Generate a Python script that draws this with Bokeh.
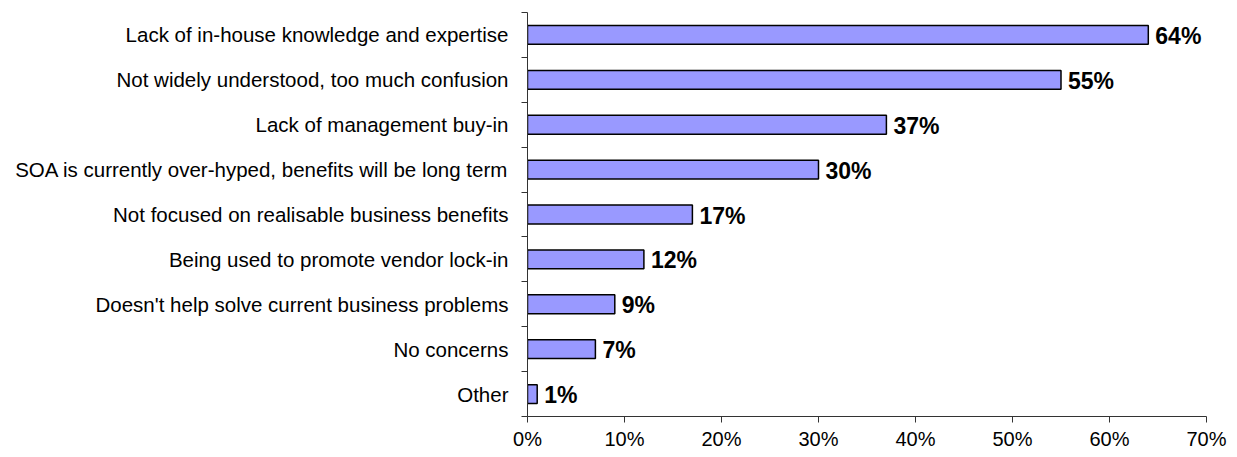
from bokeh.plotting import figure
from bokeh.models import Range1d, FixedTicker, ColumnDataSource
from bokeh.core.properties import value
from bokeh.embed import file_html
from bokeh.resources import INLINE

categories = [
    "Lack of in-house knowledge and expertise",
    "Not widely understood, too much confusion",
    "Lack of management buy-in",
    "SOA is currently over-hyped, benefits will be long term",
    "Not focused on realisable business benefits",
    "Being used to promote vendor lock-in",
    "Doesn't help solve current business problems",
    "No concerns",
    "Other",
]
values = [64, 55, 37, 30, 17, 12, 9, 7, 1]
x_ticks = [0, 10, 20, 30, 40, 50, 60, 70]
x_tick_labels = ["0%", "10%", "20%", "30%", "40%", "50%", "60%", "70%"]

n = len(categories)
ypos = [n - 0.5 - i for i in range(n)]
labels = [f"{v}%" for v in values]
src = ColumnDataSource(dict(y=ypos, v=values, lab=labels, cat=categories))

p = figure(width=1237, height=457, output_backend="svg", toolbar_location=None,
           x_range=Range1d(0, 70), y_range=Range1d(0, n))
p.min_border_left = 527
p.min_border_right = 31
p.min_border_top = 12
p.min_border_bottom = 41
p.outline_line_color = None
p.xgrid.visible = False
p.ygrid.visible = False
p.background_fill_color = "white"
p.border_fill_color = "white"

p.hbar(y="y", right="v", left=0, height=0.42, source=src,
       fill_color="#9999FF", line_color="black", line_width=1.5)

p.text(x="v", y="y", text="lab", source=src, x_offset=7, y_offset=1,
       text_align="left", text_baseline="middle",
       text_font=value("Liberation Sans"), text_font_style="bold",
       text_font_size="23px", text_color="black")

# x axis
xa = p.xaxis[0]
xa.ticker = FixedTicker(ticks=x_ticks)
xa.major_label_overrides = {t: l for t, l in zip(x_ticks, x_tick_labels)}
xa.major_tick_in = 0
xa.major_tick_out = 6
xa.minor_tick_out = 0
xa.minor_tick_in = 0
xa.axis_line_color = "#333333"
xa.major_tick_line_color = "#333333"
xa.major_label_text_font = "Liberation Sans"
xa.major_label_text_font_size = "20px"
xa.major_label_text_color = "black"
xa.major_label_standoff = 5

# y axis
ya = p.yaxis[0]
ya.ticker = FixedTicker(ticks=ypos, minor_ticks=list(range(n + 1)))
ya.major_label_overrides = {y: c for y, c in zip(ypos, categories)}
ya.major_tick_in = 0
ya.major_tick_out = 0
ya.minor_tick_in = 0
ya.minor_tick_out = 6
ya.minor_tick_line_color = "#333333"
ya.axis_line_color = "#333333"
ya.major_label_text_font = "Liberation Sans"
ya.major_label_text_font_size = "20.5px"
ya.major_label_text_color = "black"
ya.major_label_standoff = 13

open("out.html", "w").write(file_html(p, INLINE))
